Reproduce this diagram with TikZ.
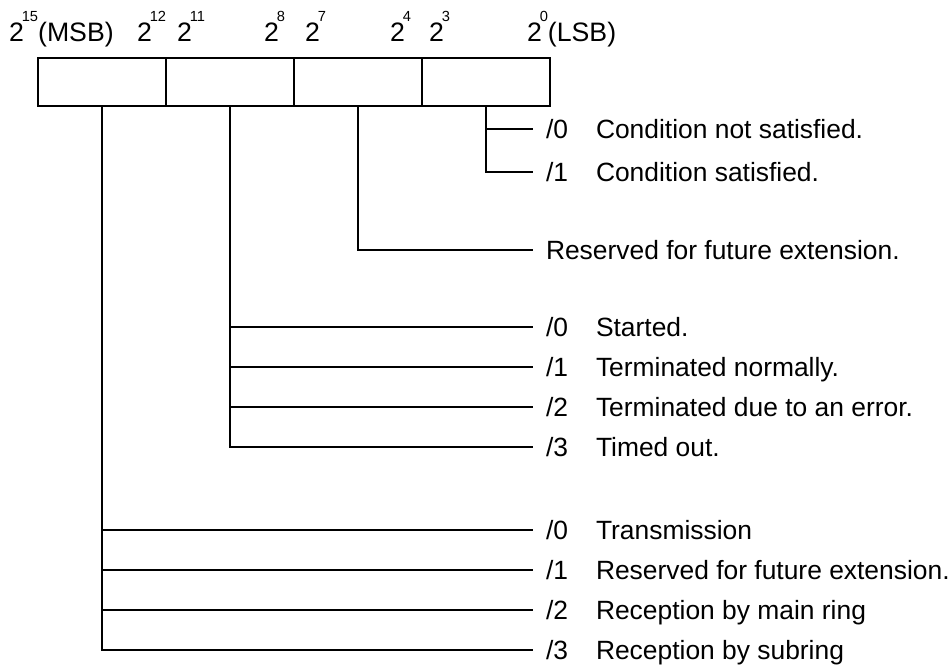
\documentclass[tikz,border=0pt]{standalone}
\usepackage{fontspec}
\setmainfont{Liberation Sans}
\usetikzlibrary{positioning}
\newcommand{\bitpow}[1]{2\kern-1.5pt\raisebox{15pt}{\fontsize{11}{12}\selectfont #1}}

\begin{document}
\begin{tikzpicture}[x=0.75pt,y=-0.75pt,line width=1.5pt,
  cell/.style={draw,minimum width=96pt,minimum height=36pt,inner sep=0pt},
  bitlbl/.style={anchor=base west,inner sep=0pt,font=\fontsize{20}{22}\selectfont},
  code/.style={anchor=west,inner xsep=9pt,inner ysep=0pt,text height=14.2pt,
               text depth=0pt,font=\fontsize{19.8}{24}\selectfont},
  desc/.style={code,inner xsep=0pt}]
\useasboundingbox (0,0) rectangle (952,666);

% ------------- register -------------
\node[cell] (f15) at (102,82) {};
\node[cell] (f11) at (230,82) {};
\node[cell] (f7)  at (358,82) {};
\node[cell] (f3)  at (486,82) {};

\node[bitlbl] (b15) at (8,42)   {\bitpow{15}(MSB)};
\node[bitlbl] (b12) at (136,42) {\bitpow{12}};
\node[bitlbl] (b11) at (176,42) {\bitpow{11}};
\node[bitlbl] (b8)  at (263,42) {\bitpow{8}};
\node[bitlbl] (b7)  at (304,42) {\bitpow{7}};
\node[bitlbl] (b4)  at (389,42) {\bitpow{4}};
\node[bitlbl] (b3)  at (428,42) {\bitpow{3}};
\node[bitlbl] (b0)  at (526,42) {\bitpow{0}(LSB)};

% ------------- bits 3..0 -------------
\node[code] (c30) at (533,129) {/0};
\node[desc] (d30) at (595,129) {Condition not satisfied.};
\node[code] (c31) at (533,172) {/1};
\node[desc] (d31) at (595,172) {Condition satisfied.};
\draw (f3.south) |- (c30.west);
\draw (f3.south) |- (c31.west);

% ------------- bits 7..4 -------------
\node[code] (c7) at (533,250) {Reserved for future extension.};
\draw (f7.south) |- (c7.west);

% ------------- bits 11..8 -------------
\node[code] (c110) at (533,327) {/0};
\node[desc] (d110) at (595,327) {Started.};
\node[code] (c111) at (533,367) {/1};
\node[desc] (d111) at (595,367) {Terminated normally.};
\node[code] (c112) at (533,407) {/2};
\node[desc] (d112) at (595,407) {Terminated due to an error.};
\node[code] (c113) at (533,447) {/3};
\node[desc] (d113) at (595,447) {Timed out.};
\draw (f11.south) |- (c110.west);
\draw (f11.south) |- (c111.west);
\draw (f11.south) |- (c112.west);
\draw (f11.south) |- (c113.west);

% ------------- bits 15..12 -------------
\node[code] (c150) at (533,530) {/0};
\node[desc] (d150) at (595,530) {Transmission};
\node[code] (c151) at (533,570) {/1};
\node[desc] (d151) at (595,570) {Reserved for future extension.};
\node[code] (c152) at (533,610) {/2};
\node[desc] (d152) at (595,610) {Reception by main ring};
\node[code] (c153) at (533,650) {/3};
\node[desc] (d153) at (595,650) {Reception by subring};
\draw (f15.south) |- (c150.west);
\draw (f15.south) |- (c151.west);
\draw (f15.south) |- (c152.west);
\draw (f15.south) |- (c153.west);

\end{tikzpicture}
\end{document}
